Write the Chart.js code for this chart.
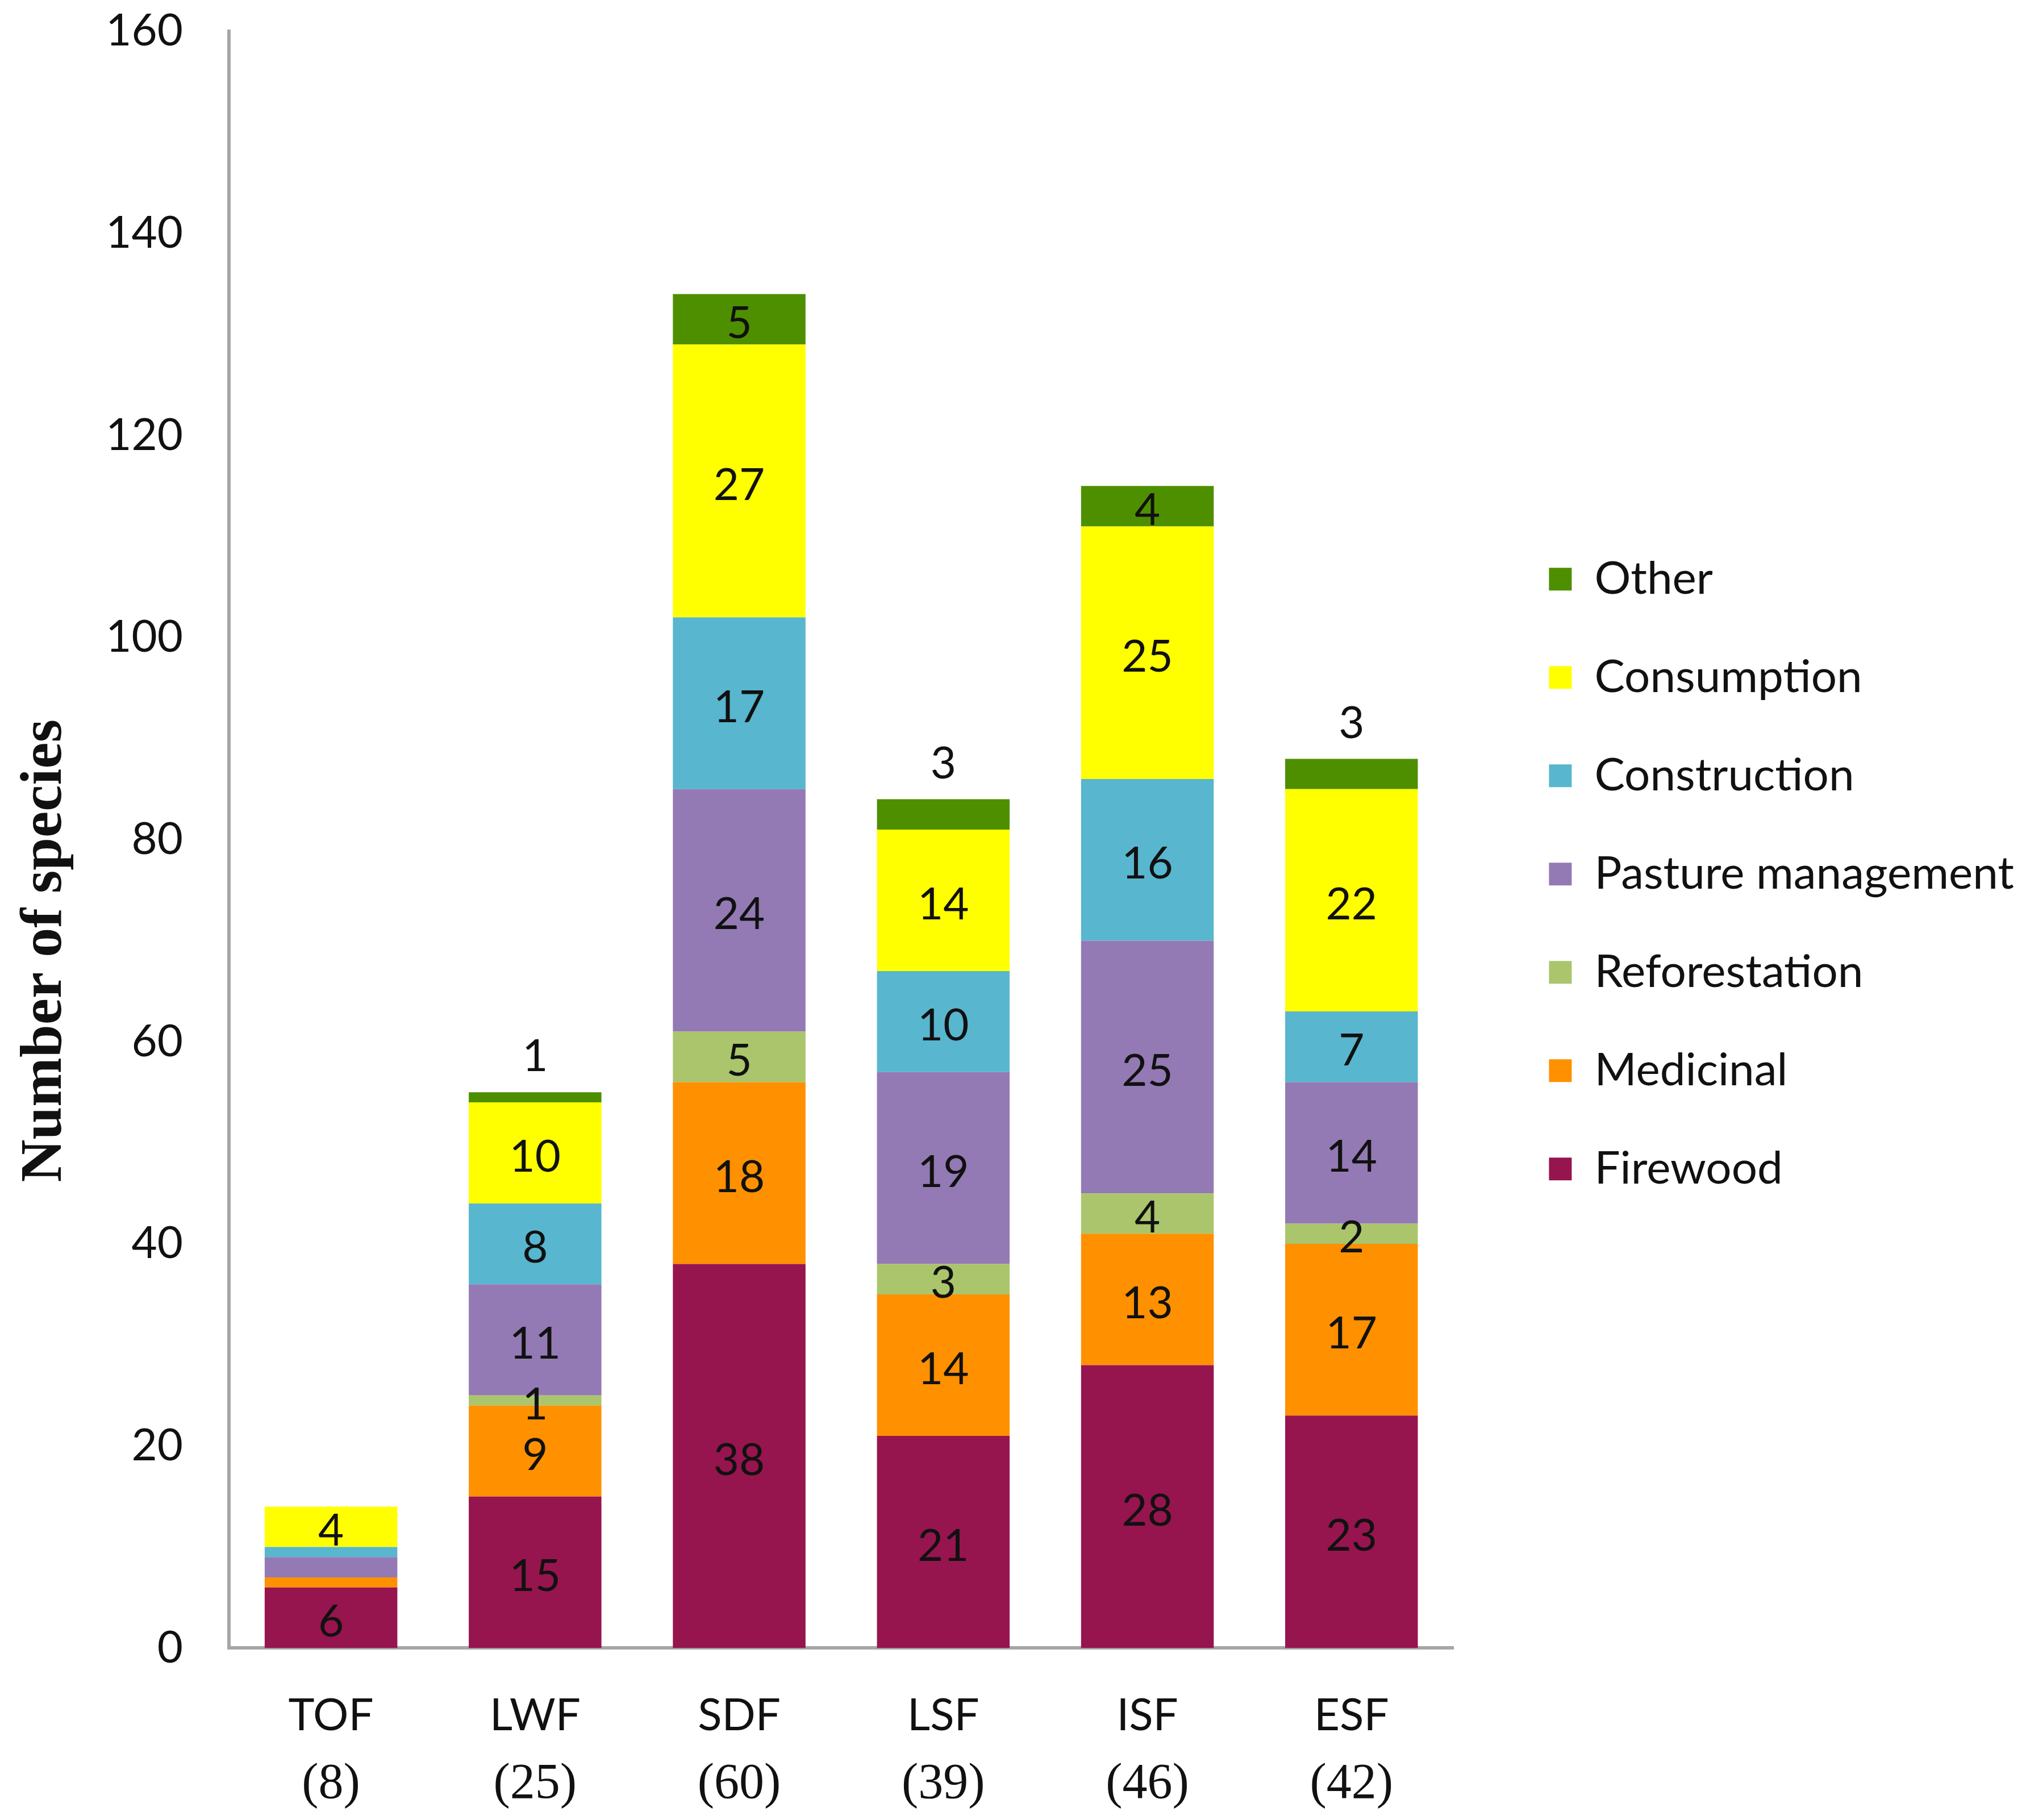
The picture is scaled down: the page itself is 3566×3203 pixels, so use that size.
<!DOCTYPE html>
<html>
<head>
<meta charset="utf-8">
<title>Number of species by forest type and use</title>
<script src="https://cdn.jsdelivr.net/npm/chart.js@4.4.1/dist/chart.umd.min.js"></script>
<style>
  html, body { margin: 0; padding: 0; background: #fff; }
  #wrap { width: 3566px; height: 3203px; }
</style>
</head>
<body>
<div id="wrap"><canvas id="species-chart"></canvas></div>
<script>
// forest types and the number of species recorded in each
const categories = ['TOF', 'LWF', 'SDF', 'LSF', 'ISF', 'ESF'];
const speciesCounts = [8, 25, 60, 39, 46, 42];

// species per use category (bottom of the stack first)
const firewood = [6, 15, 38, 21, 28, 23];
const medicinal = [1, 9, 18, 14, 13, 17];
const reforestation = [0, 1, 5, 3, 4, 2];
const pasture = [2, 11, 24, 19, 25, 14];
const construction = [1, 8, 17, 10, 16, 7];
const consumption = [4, 10, 27, 14, 25, 22];
const other = [0, 1, 5, 3, 4, 3];

const yTicks = [0, 20, 40, 60, 80, 100, 120, 140, 160];

// thin TOF slices carry no number in the original figure
const unlabeled = {
  TOF: ['Medicinal', 'Reforestation', 'Pasture management', 'Construction']
};

const AXIS_GREY = '#a6a6a6';
const TEXT = '#111';

Chart.defaults.font.family = 'Lato';
Chart.defaults.color = TEXT;

const segmentLabels = {
  id: 'segmentLabels',
  afterDatasetsDraw(chart) {
    const ctx = chart.ctx;
    ctx.save();
    ctx.font = '78px Lato';
    ctx.fillStyle = TEXT;
    ctx.textAlign = 'center';
    ctx.textBaseline = 'middle';
    chart.data.datasets.forEach(function(ds, di) {
      const meta = chart.getDatasetMeta(di);
      meta.data.forEach(function(bar, i) {
        const v = ds.data[i];
        if (!v) return;
        const skip = unlabeled[categories[i]];
        if (skip && skip.includes(ds.label)) return;
        let y;
        if (ds.label === 'Other' && v < 4) {
          y = bar.y - 62;
        } else {
          y = (bar.y + bar.base) / 2 + 8;
        }
        ctx.fillText(String(v), bar.x, y);
      });
    });
    ctx.restore();
  }
};

// serif "(n)" line under each forest type, and the rotated y title
const extraText = {
  id: 'extraText',
  afterDraw(chart) {
    const ctx = chart.ctx;
    const xScale = chart.scales.x;
    const yScale = chart.scales.y;
    ctx.save();
    ctx.fillStyle = TEXT;
    ctx.textAlign = 'center';
    ctx.textBaseline = 'middle';
    ctx.font = '88px "Liberation Serif"';
    categories.forEach(function(c, i) {
      ctx.fillText('(' + speciesCounts[i] + ')', xScale.getPixelForTick(i), xScale.top + 240);
    });

    ctx.font = 'bold 104px "Liberation Serif"';
    ctx.translate(80, yScale.getPixelForValue(69));
    ctx.rotate(-Math.PI / 2);
    ctx.fillText('Number of species', 0, 0);
    ctx.restore();
  }
};

const speciesData = {
  labels: categories,
  datasets: [
    { label: 'Firewood', data: firewood, backgroundColor: '#96154e' },
    { label: 'Medicinal', data: medicinal, backgroundColor: '#ff9000' },
    { label: 'Reforestation', data: reforestation, backgroundColor: '#aac56c' },
    { label: 'Pasture management', data: pasture, backgroundColor: '#937ab4' },
    { label: 'Construction', data: construction, backgroundColor: '#58b6cf' },
    { label: 'Consumption', data: consumption, backgroundColor: '#ffff00' },
    { label: 'Other', data: other, backgroundColor: '#4e8f00' }
  ].map(function(ds) {
    return Object.assign(ds, {
      borderWidth: 0,
      barPercentage: 0.65,
      categoryPercentage: 1.0,
      yAxisID: 'y'
    });
  })
};

const speciesChart = new Chart(document.getElementById('species-chart'), {
  type: 'bar',
  data: speciesData,
  plugins: [segmentLabels, extraText],
  options: {
    responsive: true,
    maintainAspectRatio: false,
    devicePixelRatio: 1,
    animation: false,
    layout: { padding: { top: 55, bottom: 136, left: 0, right: 11 } },
    plugins: {
      tooltip: { enabled: false },
      legend: {
        position: 'right',
        fullSize: false,
        reverse: true,
        maxWidth: 937,
        // empty title only pushes the entries down a little
        title: { display: true, text: '', padding: 0, font: { size: 100, lineHeight: 1.21 } },
        labels: {
          boxWidth: 40,
          boxHeight: 40,
          padding: 93,
          color: TEXT,
          font: { family: 'Lato', size: 80 }
        }
      }
    },
    scales: {
      x: {
        stacked: true,
        grid: { display: false, drawTicks: true, tickLength: 73 },
        border: { display: true, color: AXIS_GREY, width: 6 },
        ticks: { padding: 0, color: TEXT, font: { family: 'Lato', size: 78 } }
      },
      y: {
        stacked: true,
        min: yTicks[0],
        max: yTicks[yTicks.length - 1],
        grid: { display: false, drawTicks: true, tickLength: 81 },
        border: { display: true, color: AXIS_GREY, width: 6 },
        ticks: {
          stepSize: yTicks[1] - yTicks[0],
          padding: 0,
          color: TEXT,
          font: { family: 'Lato', size: 78 }
        },
        afterFit: function(s) { s.width = 403; }
      },
      y2: {
        position: 'right',
        display: true,
        grid: { display: false, drawTicks: false },
        border: { display: false },
        ticks: { display: false },
        afterFit: function(s) { s.width = 75; }
      }
    }
  }
});
</script>
</body>
</html>
